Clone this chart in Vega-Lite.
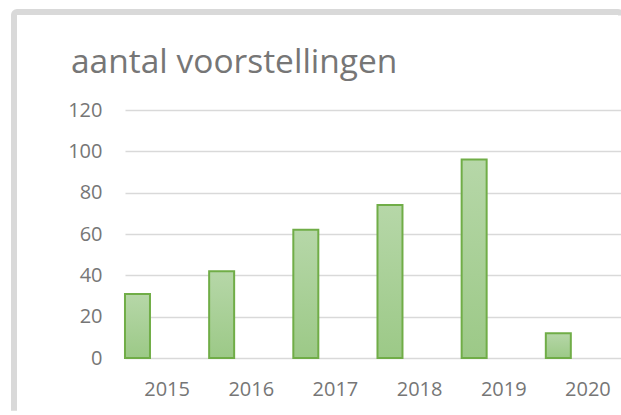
{
  "$schema": "https://vega.github.io/schema/vega-lite/v6.json",
  "autosize": {"type": "none"},
  "padding": {"left": 14, "top": 12, "right": 0, "bottom": 0},
  "width": 607,
  "height": 403,
  "background": "white",
  "config": {
    "view": {"stroke": "#d9d9d9", "strokeWidth": 6, "cornerRadius": 3, "fill": "white", "strokeDash": [606, 1008, 420]},
    "font": "Open Sans"
  },
  "title": {
    "text": "aantal voorstellingen",
    "anchor": "start",
    "frame": "group",
    "orient": "top",
    "offset": 0,
    "baseline": "alphabetic",
    "dx": 57,
    "dy": 94,
    "font": "Open Sans",
    "fontSize": 33.5,
    "fontWeight": "normal",
    "color": "#767676"
  },
  "data": {
    "values": [
      {"jaar": "2015", "aantal": 31},
      {"jaar": "2016", "aantal": 42},
      {"jaar": "2017", "aantal": 62},
      {"jaar": "2018", "aantal": 74},
      {"jaar": "2019", "aantal": 96},
      {"jaar": "2020", "aantal": 12}
    ]
  },
  "mark": {
    "type": "bar",
    "width": 25,
    "xOffset": -29.6,
    "stroke": "#70ad47",
    "strokeWidth": 2,
    "fill": {
      "gradient": "linear",
      "x1": 0, "y1": 0, "x2": 0, "y2": 1,
      "stops": [
        {"offset": 0, "color": "#b6d7a8"},
        {"offset": 1, "color": "#9cc987"}
      ]
    }
  },
  "encoding": {
    "x": {
      "field": "jaar",
      "type": "ordinal",
      "scale": {"range": [111, 616], "paddingInner": 0, "paddingOuter": 0},
      "axis": {
        "title": null,
        "labelAngle": 0,
        "ticks": false,
        "tickSize": 0,
        "domain": false,
        "grid": false,
        "offset": -30,
        "labelPadding": 4,
        "labelBaseline": "middle",
        "labelFont": "Open Sans",
        "labelFontSize": 20,
        "labelColor": "#767676"
      }
    },
    "y": {
      "field": "aantal",
      "type": "quantitative",
      "scale": {"domain": [0, 120], "range": [346, 98], "nice": false, "zero": true},
      "axis": {
        "title": null,
        "values": [0, 20, 40, 60, 80, 100, 120],
        "ticks": false,
        "tickSize": 0,
        "domain": false,
        "offset": -93,
        "labelPadding": 5,
        "labelFont": "Open Sans",
        "labelFontSize": 20,
        "labelColor": "#767676",
        "grid": true,
        "gridColor": "#d9d9d9",
        "gridWidth": 1.5
      }
    }
  }
}
